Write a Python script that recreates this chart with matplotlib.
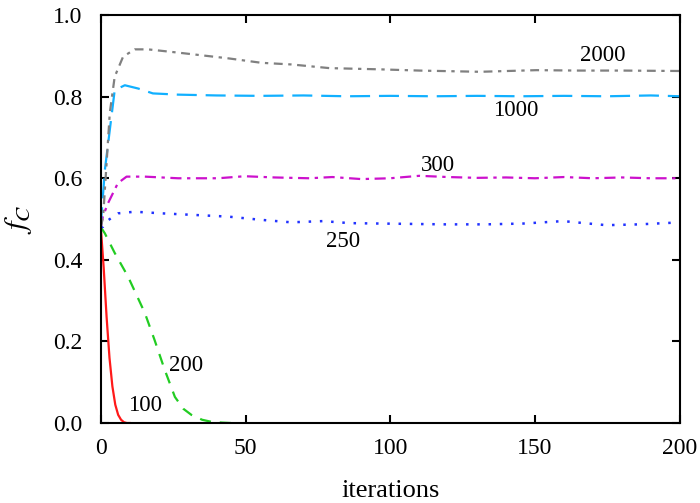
import matplotlib.pyplot as plt
import numpy as np

plt.rcParams['font.family'] = ['Liberation Serif', 'DejaVu Serif']
plt.rcParams['mathtext.fontset'] = 'stix'

# series: (iterations, f_C)
x_100 = [0, 1, 2, 3, 4, 5, 6, 7, 8, 9, 10]
y_100 = [0.48, 0.38, 0.26, 0.16, 0.09, 0.045, 0.02, 0.008, 0.002, 0.0, 0.0]

x_200 = [0, 1.4, 4.8, 9.4, 15.2, 18.6, 22.1, 25.6, 28.5, 31.3, 35, 38.2, 42, 45]
y_200 = [0.48, 0.465, 0.417, 0.359, 0.27, 0.203, 0.13, 0.064, 0.035, 0.02, 0.008, 0.003, 0.001, 0.0]

x_250 = [0, 0.8, 2.5, 6, 11.7, 21, 32.5, 44, 55.5, 65.8, 76.8, 86, 96.4, 108, 119, 133,
         146, 159.7, 167, 174.7, 186, 197.6, 200]
y_250 = [0.48, 0.481, 0.497, 0.514, 0.518, 0.514, 0.51, 0.506, 0.498, 0.492, 0.495, 0.49,
         0.489, 0.488, 0.487, 0.487, 0.489, 0.495, 0.49, 0.485, 0.487, 0.491, 0.49]

x_300 = [0, 0.7, 2.5, 5.9, 8.9, 15.2, 26.7, 40.5, 49.7, 60, 72, 80, 90, 100, 110, 120,
         130, 140, 150, 160, 170, 180, 190, 200]
y_300 = [0.48, 0.506, 0.539, 0.588, 0.604, 0.604, 0.6, 0.6, 0.605, 0.602, 0.6, 0.603,
         0.598, 0.6, 0.606, 0.603, 0.601, 0.602, 0.6, 0.603, 0.6, 0.602, 0.6, 0.6]

x_1000 = [0, 0.2, 1.4, 3.1, 4.8, 8.3, 12.9, 18, 26.7, 40, 55, 70, 85, 100, 115, 130,
          145, 160, 175, 190, 200]
y_1000 = [0.48, 0.506, 0.62, 0.718, 0.816, 0.828, 0.82, 0.808, 0.805, 0.803, 0.802, 0.803,
          0.801, 0.802, 0.801, 0.802, 0.801, 0.802, 0.801, 0.803, 0.801]

x_2000 = [0, 0.8, 2, 3.1, 4.8, 7.7, 11.7, 16.3, 26.7, 44, 55.5, 65.8, 79, 96.4, 110, 131,
          150.5, 165, 180, 199, 200]
y_2000 = [0.48, 0.506, 0.637, 0.76, 0.849, 0.898, 0.916, 0.916, 0.908, 0.894, 0.883, 0.879,
          0.87, 0.867, 0.864, 0.861, 0.865, 0.864, 0.864, 0.863, 0.863]

labels = ['100', '200', '250', '300', '1000', '2000']
label_pos = [(15.2, 0.044), (29.6, 0.142), (83.7, 0.444), (116.5, 0.632), (143.4, 0.767), (173.4, 0.902)]

fig = plt.figure(figsize=(7, 5.03), dpi=100)
ax = fig.add_axes([0.144, 0.159, 0.827, 0.811])

ax.plot(x_100, y_100, color='#ff1a1a', lw=1.6, ls='-')
ax.plot(x_200, y_200, color='#22cc22', lw=1.6, ls=(0, (5, 4)))
ax.plot(x_250, y_250, color='#2233ff', lw=1.8, ls=(0, (1, 3.5)))
ax.plot(x_300, y_300, color='#cc11cc', lw=1.6, ls=(0, (5, 2.5, 1.5, 2.5)))
ax.plot(x_1000, y_1000, color='#11b0ff', lw=1.6, ls=(0, (9, 4)))
ax.plot(x_2000, y_2000, color='#808080', lw=1.6, ls=(0, (4, 2.5, 1.5, 2.5)))

for t, (px, py) in zip(labels, label_pos):
    ax.text(px, py, t, fontsize=16.5, ha='center', va='center')

ax.set_xlim(0, 200)
ax.set_ylim(0, 1.0)
ax.set_xticks([0, 50, 100, 150, 200])
ax.set_yticks([0, 0.2, 0.4, 0.6, 0.8, 1.0])
ax.set_yticklabels(['0.0', '0.2', '0.4', '0.6', '0.8', '1.0'])
ax.tick_params(direction='in', top=True, right=True, length=6, width=1.5, labelsize=17)
ax.tick_params(axis='x', pad=11)
ax.tick_params(axis='y', pad=13)
for s in ax.spines.values():
    s.set_linewidth(1.5)

ax.set_xlabel('iterations', fontsize=19, labelpad=15)
ax.set_ylabel('$f_C$', fontsize=22, labelpad=14)

fig.savefig('out.png', dpi=100)
